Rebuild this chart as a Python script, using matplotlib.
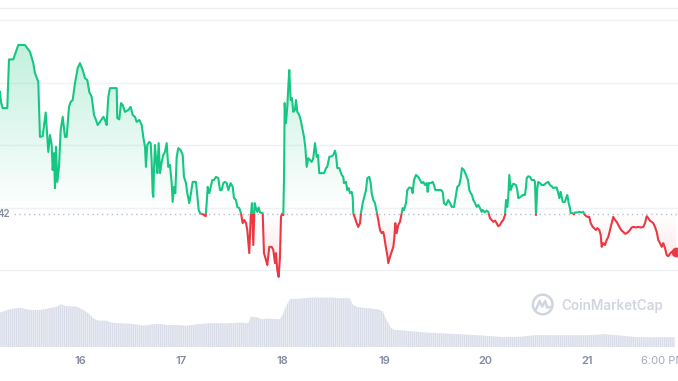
import numpy as np
import matplotlib.pyplot as plt
from matplotlib.patches import Circle
from matplotlib.lines import Line2D
from matplotlib.transforms import IdentityTransform
from matplotlib.colors import to_rgb

plt.rcParams['font.family'] = ['Inter', 'DejaVu Sans']
plt.rcParams['hatch.linewidth'] = 0.6

# price series, hours since 15th 00:00
hours = np.array([
    5.07, 5.30, 5.70, 6.79, 7.20, 8.21, 9.40, 10.98, 12.17, 12.95,
    13.35, 14.13, 14.53, 15.17, 15.88, 16.26, 16.50, 16.90, 17.30, 17.54,
    17.85, 18.08, 18.32, 18.63, 19.03, 19.43, 19.91, 20.45, 20.85, 21.40,
    21.80, 22.27, 22.82, 23.46, 24.00, 24.64, 25.19, 25.73, 26.20, 26.77,
    27.32, 27.79, 28.19, 28.74, 29.52, 29.92, 30.32, 30.70, 31.10, 32.69,
    32.83, 33.30, 33.71, 34.11, 34.65, 35.43, 36.00, 36.48, 37.02, 37.42,
    38.04, 38.61, 38.98, 39.39, 39.62, 39.93, 40.40, 40.74, 40.97, 41.21,
    41.35, 41.52, 41.75, 41.99, 42.30, 42.63, 42.94, 43.34, 43.72, 44.12,
    44.52, 44.90, 45.30, 45.71, 45.94, 46.25, 46.56, 46.89, 47.27, 47.84,
    48.31, 48.62, 49.09, 49.40, 49.87, 50.27, 50.68, 51.46, 51.77, 52.10,
    52.41, 53.19, 53.75, 53.99, 54.23, 54.61, 54.94, 55.32, 55.72, 56.19,
    56.74, 57.14, 57.54, 57.92, 58.32, 58.73, 59.10, 59.67, 60.15, 60.45,
    60.93, 61.23, 61.71, 62.11, 62.51, 62.89, 63.29, 63.60, 64.07, 64.41,
    64.71, 65.02, 65.35, 65.66, 65.97, 66.30, 66.61, 67.25, 67.55, 68.03,
    68.34, 68.81, 69.38, 69.76, 70.16, 70.39, 70.70, 71.03, 71.34, 71.58,
    71.81, 72.12, 72.29, 72.45, 72.76, 73.07, 73.31, 73.54, 73.87, 74.18,
    74.49, 74.89, 75.13, 75.44, 75.91, 76.24, 76.71, 77.02, 77.33, 77.66,
    78.04, 78.44, 78.85, 79.22, 79.63, 80.03, 80.34, 80.64, 81.21, 81.76,
    82.23, 82.54, 83.01, 83.58, 83.96, 84.36, 84.60, 84.90, 85.38, 85.95,
    86.32, 86.49, 86.96, 87.27, 87.60, 87.91, 88.31, 88.55, 88.69, 89.09,
    89.50, 89.87, 90.28, 90.51, 90.92, 91.30, 91.70, 92.01, 92.48, 92.81,
    93.05, 93.42, 93.83, 94.23, 94.61, 95.01, 95.41, 95.79, 96.03, 96.43,
    96.74, 96.98, 97.38, 97.78, 98.16, 98.40, 98.63, 98.96, 99.34, 99.74,
    100.15, 100.38, 100.69, 101.17, 101.47, 101.95, 102.51, 102.75, 103.06, 103.53,
    104.08, 104.48, 104.88, 105.26, 105.66, 106.07, 106.30, 106.54, 107.01, 107.49,
    107.79, 108.10, 108.81, 109.45, 109.85, 110.16, 110.63, 111.18, 111.58, 111.98,
    112.53, 113.00, 113.31, 113.78, 114.11, 114.42, 114.89, 115.20, 115.53, 115.84,
    116.15, 116.48, 116.79, 117.10, 117.50, 117.90, 118.28, 118.68, 119.08, 119.32,
    119.86, 120.27, 120.65, 121.05, 121.45, 121.83, 122.23, 122.63, 123.01, 123.42,
    123.82, 124.20, 124.60, 124.84, 125.14, 125.38, 125.62, 125.95, 126.18, 126.56,
    127.20, 127.51, 127.75, 128.31, 128.79, 129.33, 129.57, 129.74, 130.11, 130.52,
    130.92, 131.46, 131.70, 131.94, 132.24, 132.48, 132.88, 133.29, 133.83, 134.30,
    134.85, 135.25, 135.65, 136.03, 136.43, 136.84, 137.21, 137.45, 137.78, 138.02,
    138.26, 138.80, 139.04, 139.35, 139.68, 139.98, 140.15, 140.62, 140.93, 141.17,
    141.71, 142.19, 142.75, 143.13, 143.53, 144.08, 144.55, 144.88, 145.36, 145.67,
    146.14, 146.45, 146.92, 147.25, 147.49, 147.87, 148.27, 148.67, 149.05, 149.45,
    149.86, 150.23, 150.64, 151.04, 151.42, 151.82, 152.22, 152.60, 153.00, 153.41,
    153.78, 154.19, 154.59, 154.97, 155.61, 156.15, 156.72, 157.33, 157.74, 158.14,
    158.52, 158.92, 159.32, 159.70, 160.10, 160.51, 160.88, 161.29, 161.69, 162.07,
    162.47, 162.87, 163.25, 163.65, 164.06, 164.43, 165.07])

price = np.array([
    0.4285, 0.4269, 0.4259, 0.4259, 0.4337, 0.4337, 0.4360, 0.4360, 0.4349, 0.4331,
    0.4315, 0.4301, 0.4213, 0.4214, 0.4252, 0.4213, 0.4189, 0.4216, 0.4200, 0.4160,
    0.4187, 0.4131, 0.4197, 0.4141, 0.4165, 0.4224, 0.4245, 0.4213, 0.4213, 0.4261,
    0.4269, 0.4272, 0.4299, 0.4323, 0.4331, 0.4320, 0.4307, 0.4304, 0.4285, 0.4277,
    0.4248, 0.4240, 0.4232, 0.4237, 0.4245, 0.4240, 0.4232, 0.4277, 0.4291, 0.4291,
    0.4243, 0.4241, 0.4267, 0.4264, 0.4253, 0.4256, 0.4261, 0.4248, 0.4245, 0.4237,
    0.4240, 0.4232, 0.4213, 0.4197, 0.4165, 0.4200, 0.4205, 0.4203, 0.4173, 0.4123,
    0.4117, 0.4160, 0.4200, 0.4179, 0.4155, 0.4203, 0.4155, 0.4173, 0.4184, 0.4189,
    0.4203, 0.4165, 0.4168, 0.4139, 0.4109, 0.4133, 0.4123, 0.4181, 0.4195, 0.4192,
    0.4184, 0.4149, 0.4139, 0.4123, 0.4107, 0.4123, 0.4141, 0.4141, 0.4120, 0.4096,
    0.4091, 0.4089, 0.4086, 0.4107, 0.4133, 0.4123, 0.4133, 0.4144, 0.4144, 0.4149,
    0.4147, 0.4128, 0.4128, 0.4139, 0.4141, 0.4139, 0.4128, 0.4139, 0.4133, 0.4115,
    0.4112, 0.4101, 0.4099, 0.4091, 0.4075, 0.4080, 0.4075, 0.4064, 0.4027, 0.4085,
    0.4107, 0.4040, 0.4107, 0.4099, 0.4093, 0.4100, 0.4092, 0.4091, 0.4027, 0.4016,
    0.4008, 0.4037, 0.4037, 0.4032, 0.4011, 0.4027, 0.4000, 0.3989, 0.4021, 0.4085,
    0.4090, 0.4088, 0.4144, 0.4267, 0.4235, 0.4261, 0.4293, 0.4320, 0.4272, 0.4275,
    0.4253, 0.4256, 0.4272, 0.4253, 0.4248, 0.4240, 0.4224, 0.4213, 0.4197, 0.4165,
    0.4179, 0.4176, 0.4173, 0.4179, 0.4203, 0.4181, 0.4184, 0.4155, 0.4155, 0.4155,
    0.4163, 0.4165, 0.4181, 0.4182, 0.4184, 0.4191, 0.4184, 0.4163, 0.4163, 0.4152,
    0.4149, 0.4139, 0.4141, 0.4128, 0.4131, 0.4123, 0.4125, 0.4117, 0.4091, 0.4083,
    0.4075, 0.4069, 0.4075, 0.4091, 0.4107, 0.4117, 0.4128, 0.4147, 0.4149, 0.4139,
    0.4123, 0.4112, 0.4107, 0.4093, 0.4080, 0.4064, 0.4059, 0.4061, 0.4053, 0.4035,
    0.4024, 0.4011, 0.4021, 0.4029, 0.4037, 0.4051, 0.4075, 0.4059, 0.4072, 0.4077,
    0.4091, 0.4099, 0.4096, 0.4107, 0.4128, 0.4132, 0.4131, 0.4123, 0.4144, 0.4152,
    0.4149, 0.4144, 0.4139, 0.4141, 0.4136, 0.4139, 0.4125, 0.4139, 0.4139, 0.4141,
    0.4136, 0.4128, 0.4128, 0.4128, 0.4125, 0.4107, 0.4104, 0.4112, 0.4107, 0.4101,
    0.4101, 0.4120, 0.4133, 0.4136, 0.4147, 0.4163, 0.4160, 0.4155, 0.4149, 0.4144,
    0.4128, 0.4123, 0.4120, 0.4112, 0.4107, 0.4101, 0.4104, 0.4099, 0.4093, 0.4096,
    0.4092, 0.4095, 0.4093, 0.4083, 0.4080, 0.4077, 0.4079, 0.4075, 0.4070, 0.4072,
    0.4077, 0.4080, 0.4088, 0.4112, 0.4101, 0.4117, 0.4152, 0.4128, 0.4133, 0.4138,
    0.4136, 0.4128, 0.4115, 0.4117, 0.4120, 0.4120, 0.4133, 0.4147, 0.4150, 0.4149,
    0.4144, 0.4144, 0.4141, 0.4088, 0.4131, 0.4141, 0.4139, 0.4136, 0.4136, 0.4139,
    0.4141, 0.4136, 0.4134, 0.4131, 0.4132, 0.4132, 0.4123, 0.4115, 0.4125, 0.4117,
    0.4109, 0.4109, 0.4115, 0.4120, 0.4107, 0.4099, 0.4091, 0.4091, 0.4089, 0.4092,
    0.4092, 0.4093, 0.4092, 0.4093, 0.4088, 0.4085, 0.4085, 0.4075, 0.4069, 0.4067,
    0.4064, 0.4067, 0.4064, 0.4056, 0.4037, 0.4043, 0.4040, 0.4048, 0.4053, 0.4064,
    0.4075, 0.4085, 0.4080, 0.4077, 0.4072, 0.4067, 0.4063, 0.4061, 0.4058, 0.4059,
    0.4061, 0.4064, 0.4068, 0.4069, 0.4068, 0.4069, 0.4068, 0.4069, 0.4075, 0.4086,
    0.4083, 0.4079, 0.4077, 0.4075, 0.4069, 0.4061, 0.4048, 0.4043, 0.4037, 0.4043,
    0.4035, 0.4024, 0.4022, 0.4026, 0.4029, 0.4029, 0.4029])

base_price = 0.4090

# volume (millions)
vol_hours = np.array([
    5.07, 7.43, 9.80, 12.17, 14.53, 16.90, 18.49, 19.50, 20.45, 23.22,
    24.78, 25.97, 27.15, 28.33, 30.32, 31.50, 33.47, 36.62, 38.98, 41.35,
    42.94, 44.52, 46.89, 49.26, 52.41, 54.77, 58.73, 61.87, 63.84, 64.41,
    65.83, 67.01, 68.19, 71.34, 72.12, 72.93, 73.71, 76.08, 78.44, 83.96,
    85.07, 87.84, 88.62, 89.80, 92.17, 94.54, 95.72, 96.50, 97.69, 98.49,
    100.86, 104.79, 108.74, 112.69, 116.62, 120.57, 124.53, 128.46, 132.41, 136.36,
    140.29, 144.25, 148.20, 152.13, 156.08, 160.03, 164.77])
volume = np.array([
    3.43, 3.77, 3.93, 3.70, 3.70, 3.87, 4.03, 4.27, 4.10, 4.03,
    3.70, 3.37, 2.87, 2.63, 2.63, 2.43, 2.37, 2.30, 2.13, 2.27,
    2.30, 2.20, 2.20, 2.13, 2.30, 2.37, 2.37, 2.43, 2.37, 3.03,
    2.97, 2.77, 2.83, 2.77, 3.37, 4.20, 4.77, 4.83, 4.93, 4.93,
    4.87, 4.87, 4.20, 3.97, 3.87, 3.77, 3.53, 2.70, 1.87, 1.70,
    1.63, 1.47, 1.37, 1.30, 1.20, 1.10, 0.97, 1.03, 1.20, 1.17,
    1.17, 1.17, 1.27, 1.13, 0.97, 0.97, 0.97])

tick_hours = [24, 48, 72, 96, 120, 144, 162]
tick_labels = ['16', '17', '18', '19', '20', '21', '6:00 PM']
grid_prices = [0.40, 0.41, 0.42, 0.43, 0.44]

green = '#16c784'
red = '#ea3943'
W, H = 678, 381

fig = plt.figure(figsize=(W / 100, H / 100), dpi=100)
ax = fig.add_axes([0, 91 / H, 1, 290 / H])
axv = fig.add_axes([0, 34 / H, 1, 57 / H], sharex=ax)

xlim = (5.07, 165.55)
ylim = (0.3968, 0.4432)

# gradient areas above / below the start price
def grad_area(lo_vals, hi_vals, color, y0, y1, a0, a1):
    poly = ax.fill_between(hours, lo_vals, hi_vals, facecolor='none', edgecolor='none')
    g = np.zeros((200, 1, 4))
    g[..., :3] = to_rgb(color)
    g[..., 3] = np.linspace(a0, a1, 200)[:, None]
    im = ax.imshow(g, extent=[xlim[0], xlim[1], y0, y1], origin='lower',
                   aspect='auto', zorder=1, interpolation='bilinear')
    im.set_clip_path(poly.get_paths()[0], transform=ax.transData)

grad_area(np.full_like(price, base_price), np.maximum(price, base_price),
          green, base_price, price.max(), 0.0, 0.26)
grad_area(np.minimum(price, base_price), np.full_like(price, base_price),
          red, price.min(), base_price, 0.16, 0.0)

up, = ax.plot(hours, price, color=green, lw=1.5, zorder=3, solid_joinstyle='round')
dn, = ax.plot(hours, price, color=red, lw=1.5, zorder=3, solid_joinstyle='round')
up.set_clip_path(plt.Rectangle((xlim[0], base_price), xlim[1] - xlim[0], 1,
                               transform=ax.transData))
dn.set_clip_path(plt.Rectangle((xlim[0], base_price - 1), xlim[1] - xlim[0], 1,
                               transform=ax.transData))
ax.plot(hours[-1], price[-1], 'o', color=red, ms=6, zorder=4, clip_on=False)

ax.axhline(base_price, xmin=14 / W, color='#b7bdca', lw=1, ls=(0, (1, 2.5)), zorder=2)

ax.set_xlim(*xlim)
ax.set_ylim(*ylim)
ax.set_yticks(grid_prices)
ax.grid(axis='y', color='#eff2f5', lw=1)
ax.set_axisbelow(True)
ax.tick_params(left=False, labelleft=False, bottom=False, labelbottom=False)
for s in ax.spines.values():
    s.set_visible(False)

# volume
axv.fill_between(vol_hours, volume, 0, facecolor='#d8dce9', edgecolor='#eef0f6',
                 hatch='||||||||', lw=0)
axv.set_ylim(0, 5.7)
axv.set_xticks(tick_hours)
axv.set_xticklabels(tick_labels, fontsize=8, color='#858ca0', fontweight='semibold')
lbls = axv.get_xticklabels()
lbls[-1].set_color('#a3a9b9')
lbls[-1].set_fontweight('normal')
axv.tick_params(left=False, labelleft=False, length=0, pad=6.5)
for s in axv.spines.values():
    s.set_visible(False)

fig.text(10 / W, 1 - 214 / H, '42', ha='right', va='center', fontsize=7,
         color='#858ca0', fontweight='semibold')
fig.add_artist(Line2D([0, 1], [1 - 8 / H] * 2, color='#eef0f3', lw=1))

# watermark
cx, cy = 542.7, H - 304.5
fig.add_artist(Circle((cx, cy), 9.8, fill=False, ec='#d0d5e0', lw=1.8,
                      transform=IdentityTransform()))
fig.add_artist(Line2D([cx - 6.5, cx - 3, cx - 0.5, cx + 2.5, cx + 4.5, cx + 8.5],
                      [cy - 4.5, cy + 3.5, cy - 2, cy + 3.5, cy - 3, cy - 2.5],
                      color='#d0d5e0', lw=1.8, transform=IdentityTransform()))
fig.text(561 / W, 1 - 306 / H, 'CoinMarketCap', ha='left', va='center', fontsize=9.7,
         color='#d0d5e0', fontweight='semibold')

fig.savefig('out.png', dpi=100)
